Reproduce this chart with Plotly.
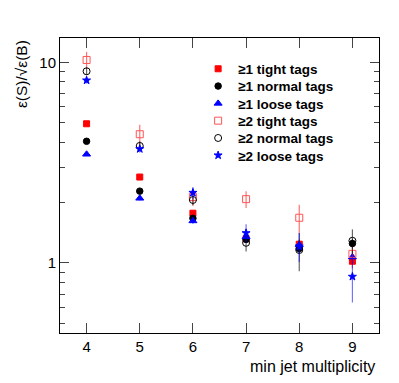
import plotly.graph_objects as go

x = [4, 5, 6, 7, 8, 9]

tight1 = [4.94, 2.68, 1.77, 1.32, 1.24, 1.02]
normal1 = [4.04, 2.28, 1.67, 1.31, 1.18, 1.25]
loose1 = [3.48, 2.10, 1.62, 1.35, 1.23, 1.07]
tight2 = [10.27, 4.38, 2.13, 2.08, 1.68, 1.11]
normal2 = [9.02, 3.83, 2.06, 1.26, 1.16, 1.29]
loose2 = [8.13, 3.70, 2.24, 1.41, 1.21, 0.855]

tight1_err = [0.08, 0.06, 0.06, 0.05, 0.07, 0.08]
normal1_err = [0.06, 0.05, 0.05, 0.05, 0.06, 0.07]
loose1_err = [0.06, 0.05, 0.05, 0.05, 0.07, 0.08]
tight2_err = [1.0, 0.5, 0.2, 0.2, 0.27, 0.1]
normal2_err = [0.4, 0.2, 0.12, 0.12, 0.25, 0.18]
loose2_err = [0.3, 0.15, 0.15, 0.15, 0.2, 0.22]

names = ["≥1 tight tags", "≥1 normal tags", "≥1 loose tags",
         "≥2 tight tags", "≥2 normal tags", "≥2 loose tags"]

series = [
    (tight1, tight1_err, "square", "#ff0000", "rgba(255,0,0,0.6)", 6),
    (normal1, normal1_err, "circle", "#000000", "rgba(0,0,0,0.6)", 6.5),
    (loose1, loose1_err, "triangle-up", "#0000ff", "rgba(0,0,255,0.6)", 7),
    (tight2, tight2_err, "square-open", "#ff5555", "rgba(255,0,0,0.55)", 7),
    (normal2, normal2_err, "circle-open", "#000000", "rgba(0,0,0,0.6)", 7),
    (loose2, loose2_err, "star", "#0000ff", "rgba(0,0,255,0.55)", 6),
]

font = "Liberation Sans, Arial, sans-serif"

# page offset (browser body margin) is 8px; plot area spans page x 60-379, y 38-333
ML, MR, MT, MB = 52, 28, 30, 58
plot_h = 383 - MT - MB
row_centers = [69, 86.3, 103.6, 120.9, 138.2, 155.5]

fig = go.Figure()
legend_layouts = {}
for i, (name, (vals, errs, sym, col, ecol, sz)) in enumerate(zip(names, series)):
    lg = "legend" if i == 0 else f"legend{i + 1}"
    fig.add_trace(go.Scatter(
        x=x, y=vals, mode="markers", name=name, legend=lg,
        marker=dict(symbol=sym, color=col, size=sz, line=dict(color=col, width=1)),
        error_y=dict(type="data", array=errs, color=ecol, thickness=1.2, width=0),
    ))
    yc = (333 - row_centers[i]) / plot_h
    legend_layouts[lg] = dict(
        x=0.433, y=yc, xanchor="left", yanchor="middle",
        bgcolor="rgba(0,0,0,0)", borderwidth=0,
        font=dict(family=font, size=13.5, weight="bold"),
        itemwidth=30)

fig.update_layout(
    width=399, height=383,
    margin=dict(l=ML, r=MR, t=MT, b=MB),
    paper_bgcolor="white", plot_bgcolor="white",
    font=dict(family=font, color="black", size=15),
    showlegend=True,
    xaxis=dict(range=[3.5, 9.5], tickvals=x, ticks="inside", ticklen=10,
               showline=True, linecolor="black", linewidth=1, mirror="ticks",
               showgrid=False, zeroline=False,
               tickfont=dict(size=15)),
    yaxis=dict(type="log", range=[-0.349, 1.121], tickvals=[1, 10],
               ticktext=["1", "10"], ticks="inside", ticklen=9,
               showline=True, linecolor="black", linewidth=1, mirror="ticks",
               showgrid=False, zeroline=False, tickfont=dict(size=15),
               minor=dict(tickmode="array",
                          tickvals=[0.5, 0.6, 0.7, 0.8, 0.9, 2, 3, 4, 5, 6, 7, 8, 9],
                          ticks="inside", ticklen=5, showgrid=False)),
    annotations=[
        dict(text="min jet multiplicity", xref="paper", yref="paper",
             x=0.995, y=-0.115, xanchor="right", yanchor="middle",
             showarrow=False, font=dict(size=16)),
        dict(text="ε(S)/√ε(B)", xref="paper", yref="paper",
             x=-0.122, y=1.0, xanchor="center", yanchor="top", textangle=-90,
             showarrow=False, font=dict(size=15.5)),
    ],
    **legend_layouts,
)

fig.write_html("out.html")
